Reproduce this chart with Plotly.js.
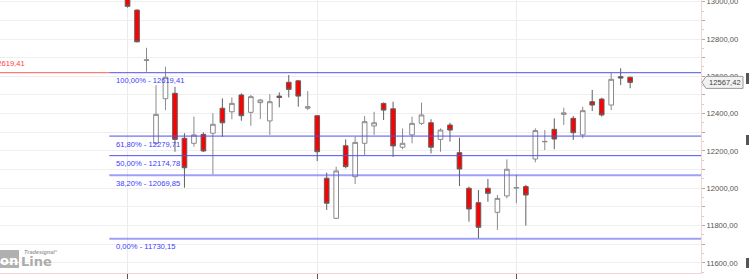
<!DOCTYPE html>
<html>
<head>
<meta charset="utf-8">
<script src="https://cdn.plot.ly/plotly-3.0.1.min.js"></script>
<style>html,body{margin:0;padding:0;background:#fff;}#chart{width:749px;height:279px;}</style>
</head>
<body>
<div id="chart"></div>
<script>
// ---- data ----
const openV  = [13030,12955,12685,12241,12480,12509,12268,12241,12289,12295,12429,12410,12500,12407,12459,12361,12494,12568,12576,12429,12389,12054,11839,12228,12062,12241,12334,12455,12426,12220,12286,12348,12351,12262,12339,12191,12000,11923,12000,11871,11959,12001,12009,12157,12249,12316,12396,12375,12286,12464,12478,12446,12598,12595];
const highV  = [13040,12958,12753,12553,12651,12544,12295,12384,12300,12402,12482,12487,12509,12500,12478,12504,12514,12607,12580,12521,12392,12084,12116,12262,12276,12387,12410,12460,12464,12321,12384,12459,12370,12321,12351,12271,12009,11991,12050,11964,12155,12071,12018,12321,12312,12375,12432,12387,12437,12527,12485,12619,12643,12598];
const lowV   = [12968,12782,12625,12230,12419,12196,12003,12223,12195,12075,12276,12370,12362,12335,12371,12286,12434,12487,12437,12419,12146,11884,11835,12107,12023,12178,12286,12366,12169,12209,12241,12339,12187,12196,12250,12012,11821,11732,11928,11777,11946,11920,11800,12139,12205,12209,12339,12259,12268,12414,12384,12419,12553,12536];
const closeV = [12975,12785,12688,12396,12595,12262,12110,12286,12200,12343,12351,12455,12389,12491,12473,12464,12487,12530,12494,12437,12196,11920,12093,12116,12246,12357,12351,12419,12227,12241,12348,12393,12220,12312,12312,12103,11889,11791,11973,11946,12102,12004,11964,12309,12251,12264,12404,12298,12416,12446,12393,12584,12591,12567.42];

const fibPct = ["100,00%","61,80%","50,00%","38,20%","0,00%"];
const fibVal = [12619.41,12279.71,12174.78,12069.85,11730.15];

const yTickVals = [11500,11600,11700,11800,11900,12000,12100,12200,12300,12400,12500,12600,12700,12800,12900,13000];
const xTickVals = [0,20,41];

// ---- helpers ----
const fmt = v => v.toFixed(2).replace('.', ',');
const xIdx = openV.map((_, i) => i);
const yTickText = yTickVals.map(v => (v % 200 === 0 ? fmt(v) : ''));
const lastClose = closeV[closeV.length - 1];

const X_RANGE = [-13.45, 60.47];
const Y_RANGE = [11546, 13009];
const PLOT_W = 701, PLOT_H = 273;
const FONT = 'Liberation Sans, Arial, sans-serif';
const FS = 7.6;
const px2paperX = p => p / PLOT_W;
const px2paperY = p => (PLOT_H - p) / PLOT_H;

const trace = {
  type: 'candlestick',
  x: xIdx, open: openV, high: highV, low: lowV, close: closeV,
  increasing: {line: {color: '#8a8a8a', width: 1}, fillcolor: '#ffffff'},
  decreasing: {line: {color: '#606060', width: 1}, fillcolor: '#ff0000'},
  whiskerwidth: 0,
  hoverinfo: 'none'
};

const fibStart = -1.93;
const shapes = [];
const annotations = [];

fibVal.forEach((v, i) => {
  const soft = i >= 3;
  shapes.push({type: 'line', xref: 'x', yref: 'y', x0: fibStart, x1: 80, y0: v, y1: v,
    line: {color: soft ? 'rgba(80,80,240,0.55)' : '#5050ee', width: soft ? 2 : 1}, layer: 'above'});
  annotations.push({xref: 'x', yref: 'y', x: -1.45, y: v, yshift: -8, xanchor: 'left', yanchor: 'middle',
    text: fibPct[i] + ' - ' + fmt(v), showarrow: false, font: {family: FONT, size: FS, color: '#3b3bff'}});
});

// red extension to the left of the 100% level
shapes.push({type: 'line', xref: 'x', yref: 'y', x0: X_RANGE[0], x1: fibStart, y0: fibVal[0], y1: fibVal[0],
  line: {color: '#ff5a5a', width: 1}, layer: 'above'});
annotations.push({xref: 'paper', yref: 'y', x: px2paperX(27), y: fibVal[0], yshift: 9.5, xanchor: 'right', yanchor: 'middle',
  text: fmt(fibVal[0]), showarrow: false, font: {family: FONT, size: FS, color: '#ff3c3c'}});

// current price tag on the right axis
const yFrac = (lastClose - Y_RANGE[0]) / (Y_RANGE[1] - Y_RANGE[0]);
const hh = 6 / PLOT_H;
const tipX = px2paperX(702), bL = px2paperX(706), bR = px2paperX(743);
shapes.push({type: 'path', xref: 'paper', yref: 'paper',
  path: `M ${tipX},${yFrac} L ${bL},${yFrac + hh} L ${bR},${yFrac + hh} L ${bR},${yFrac - hh} L ${bL},${yFrac - hh} Z`,
  fillcolor: '#f2f2f2', line: {color: '#9a9a9a', width: 1}, layer: 'above'});
annotations.push({xref: 'paper', yref: 'paper', x: (bL + bR) / 2, y: yFrac, xanchor: 'center', yanchor: 'middle',
  text: fmt(lastClose), showarrow: false, font: {family: FONT, size: FS, color: '#444'}});

// watermark logo
shapes.push({type: 'rect', xref: 'paper', yref: 'paper', x0: px2paperX(-3), x1: px2paperX(19),
  y0: px2paperY(268), y1: px2paperY(250), fillcolor: '#b0b0b0', line: {width: 0}, layer: 'below'});
annotations.push({xref: 'paper', yref: 'paper', x: px2paperX(9), y: px2paperY(260), xanchor: 'center', yanchor: 'middle',
  text: '<b>on</b>', showarrow: false, font: {family: 'DejaVu Sans', size: 13, color: '#ffffff'}});
annotations.push({xref: 'paper', yref: 'paper', x: px2paperX(19), y: px2paperY(261), xanchor: 'left', yanchor: 'middle',
  text: '<b>Line</b>', showarrow: false, font: {family: 'DejaVu Sans', size: 13, color: '#ababab'}});
annotations.push({xref: 'paper', yref: 'paper', x: px2paperX(22), y: px2paperY(252), xanchor: 'left', yanchor: 'middle',
  text: '<i><b>Tradesignal°</b></i>', showarrow: false, font: {family: FONT, size: 5.5, color: '#a0a0a0'}});

// cut-off UI bits at right edge
[[73, 84], [135, 145], [258, 268]].forEach(([a, b]) => {
  shapes.push({type: 'rect', xref: 'paper', yref: 'paper', x0: px2paperX(746), x1: px2paperX(750),
    y0: px2paperY(b), y1: px2paperY(a), fillcolor: '#555', line: {width: 0}, layer: 'above'});
});

const layout = {
  width: 749, height: 279,
  margin: {l: 0, r: 48, t: 0, b: 6, pad: 0},
  paper_bgcolor: '#ffffff', plot_bgcolor: '#ffffff',
  showlegend: false,
  xaxis: {
    type: 'linear', range: X_RANGE, tickmode: 'array', tickvals: xTickVals, showticklabels: false,
    ticks: 'outside', ticklen: 6, tickcolor: '#555', tickwidth: 1,
    showgrid: true, gridcolor: '#ebebeb', zeroline: false,
    showline: true, linecolor: '#f2d2d2', rangeslider: {visible: false}, fixedrange: true
  },
  yaxis: {
    side: 'right', range: Y_RANGE, tickmode: 'array', tickvals: yTickVals, ticktext: yTickText,
    ticks: 'outside', ticklen: 3, tickcolor: '#aaa', tickwidth: 1, ticklabeloverflow: 'allow',
    minor: {dtick: 50, tick0: 0, ticks: 'outside', ticklen: 2, tickcolor: '#d0d0d0', showgrid: false},
    showgrid: true, gridcolor: '#efefef', zeroline: false,
    showline: true, linecolor: '#f2d2d2',
    tickfont: {family: FONT, size: FS, color: '#555'}, fixedrange: true
  },
  shapes: shapes,
  annotations: annotations
};

Plotly.newPlot('chart', [trace], layout, {staticPlot: true, displayModeBar: false});
</script>
</body>
</html>
